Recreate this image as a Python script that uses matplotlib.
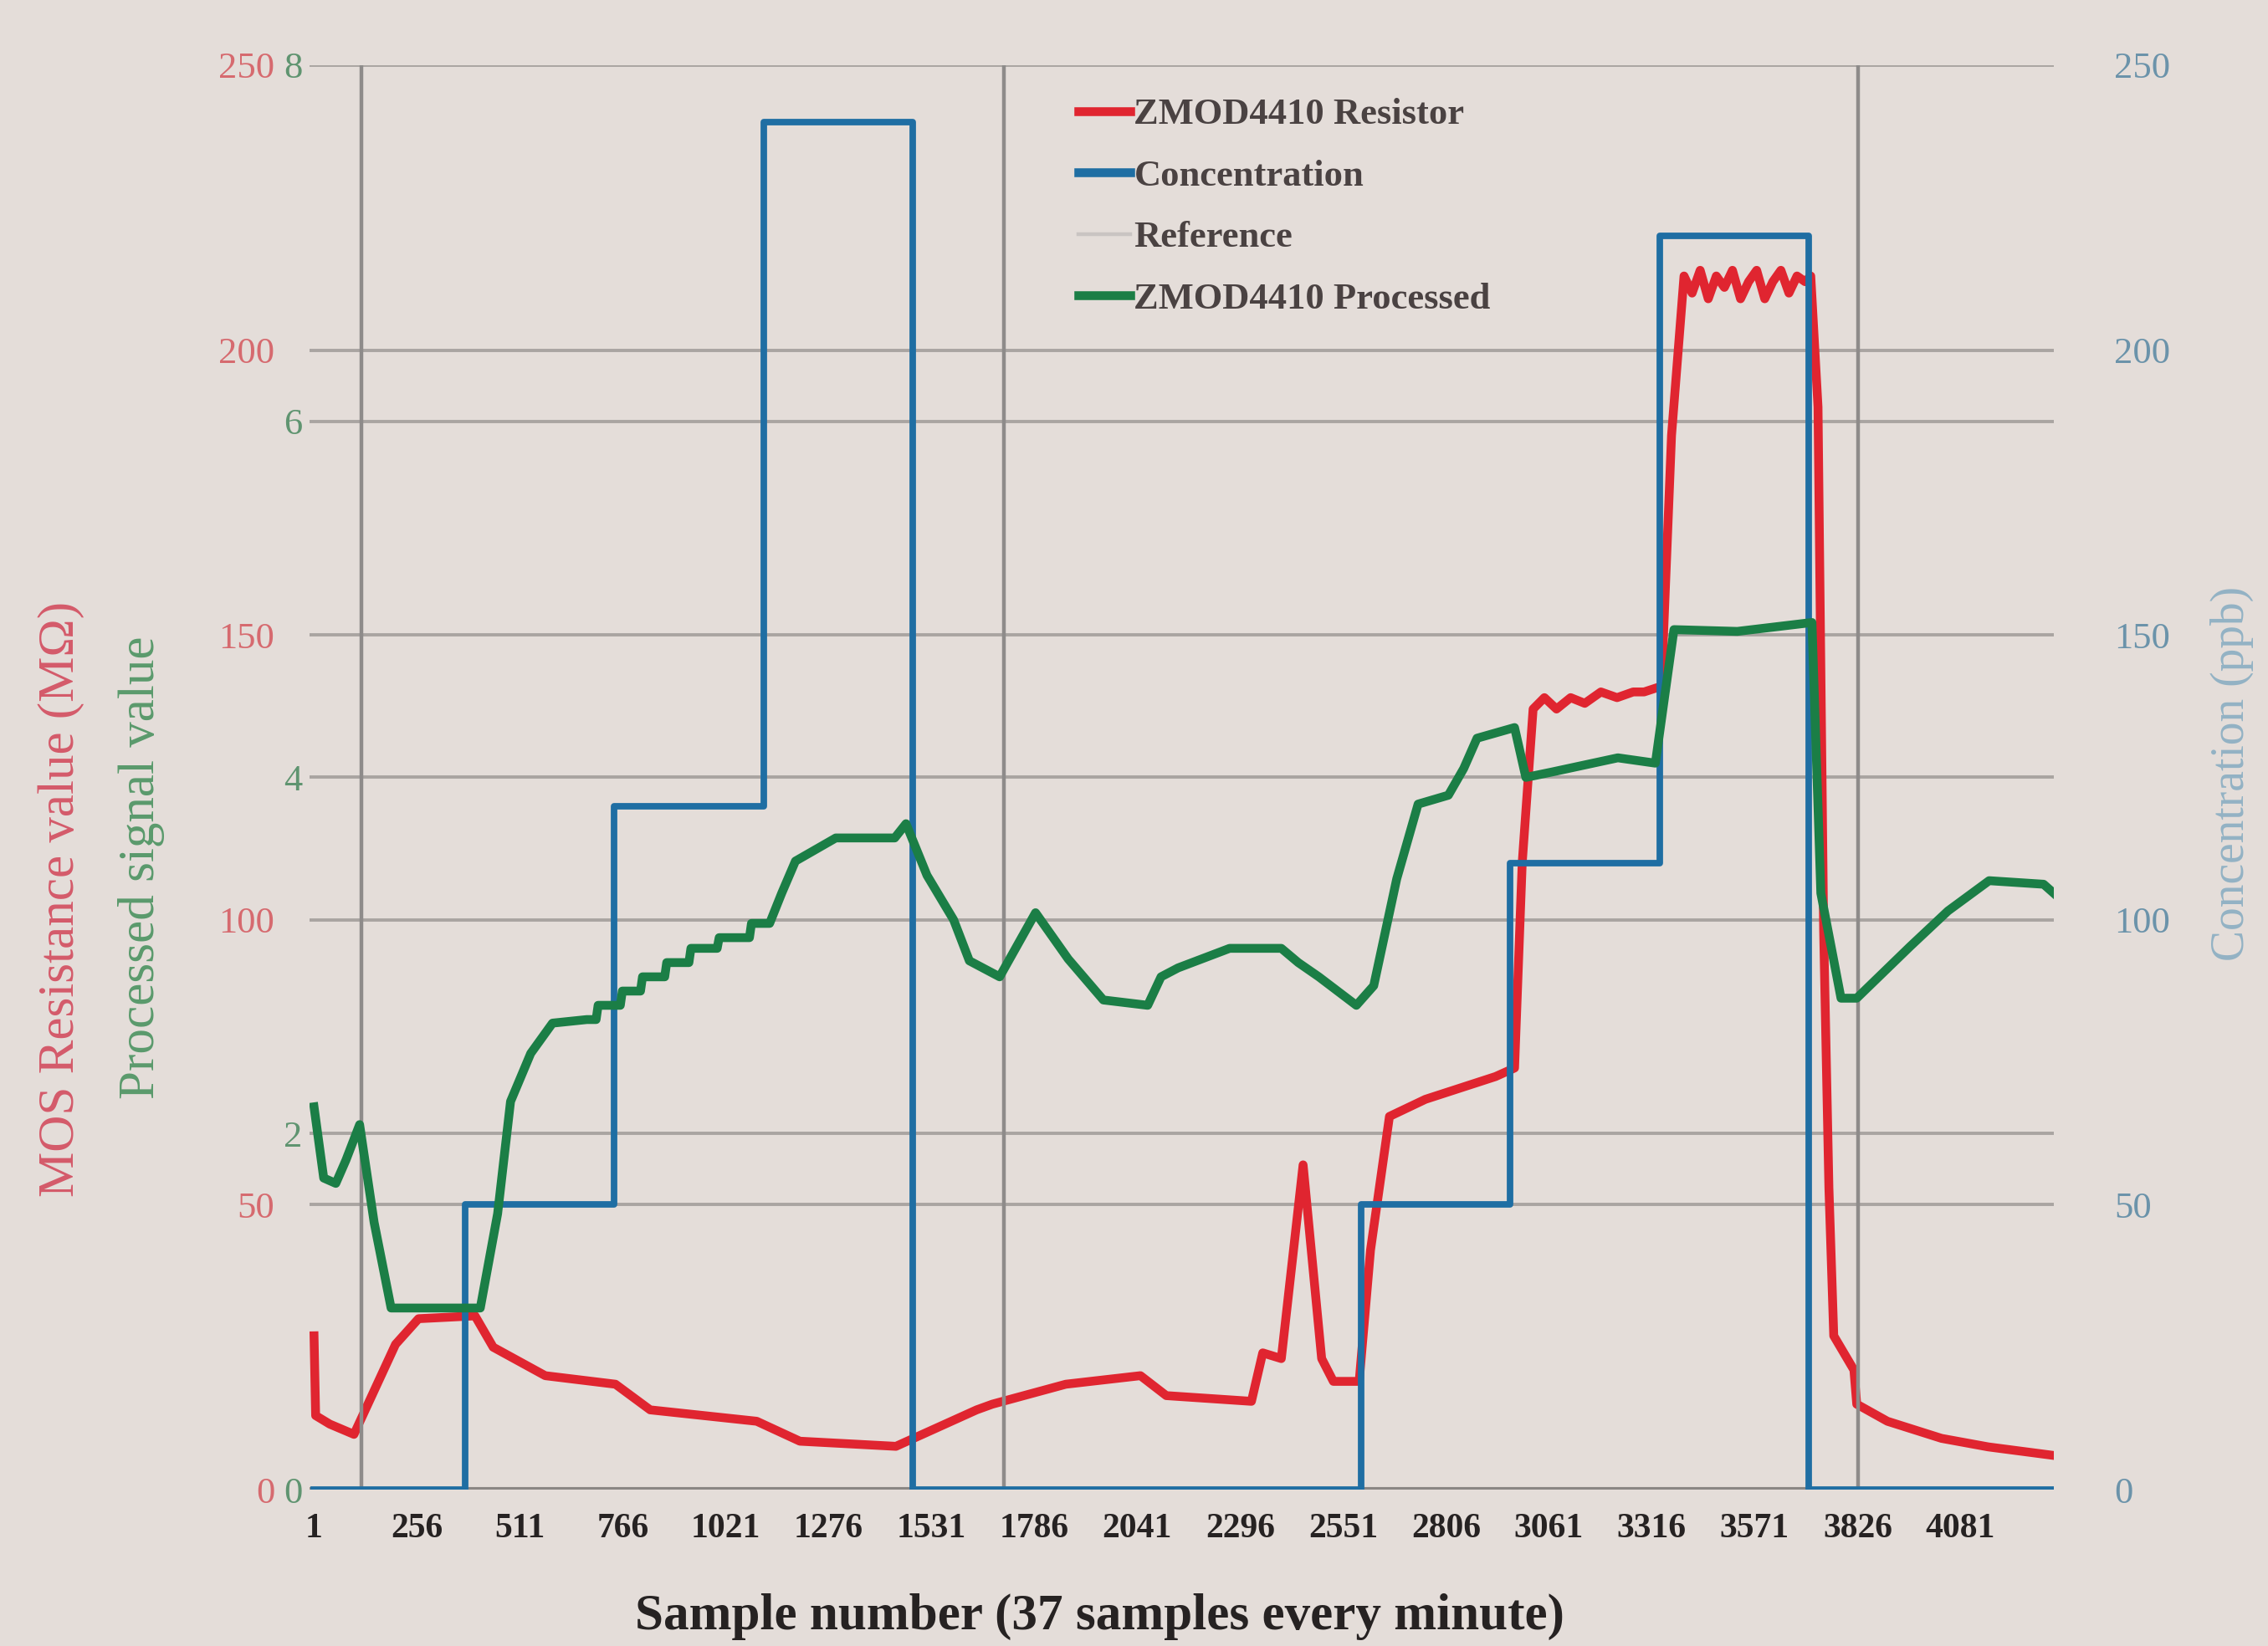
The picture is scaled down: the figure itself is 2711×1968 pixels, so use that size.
import matplotlib
matplotlib.use("Agg")
import matplotlib.pyplot as plt
from matplotlib import transforms
from matplotlib.lines import Line2D

plt.rcParams['font.family'] = ['Liberation Serif', 'DejaVu Serif']

# ZMOD4410 raw resistance (MOhm)
res_x = [1, 5, 40, 100, 203, 260, 400, 445, 574, 748, 834, 1098, 1205, 1443, 1518,
         1643, 1682, 1864, 2049, 2113, 2324, 2352, 2398, 2425, 2452, 2475, 2498, 2527,
         2591, 2619, 2666, 2755, 2929, 2976, 2995, 3022, 3050, 3080, 3115, 3150, 3190,
         3230, 3270, 3297, 3340, 3365, 3396, 3416, 3436, 3456, 3476, 3496, 3516, 3536,
         3556, 3576, 3596, 3616, 3636, 3656, 3676, 3696, 3710, 3728, 3742, 3755, 3767,
         3817, 3824, 3900, 4034, 4150, 4312]
res_y = [27, 13, 11.5, 9.7, 25.5, 30, 30.5, 25, 20, 18.5, 14, 12, 8.5, 7.6, 10,
         14, 15, 18.5, 20, 16.5, 15.5, 24, 23, 40, 57, 40, 23, 19,
         19, 42, 65.5, 68.5, 72.5, 74, 110, 137, 139, 137, 139, 138, 140,
         139, 140, 140, 141, 185, 213, 210, 214, 209, 213, 211, 214, 209,
         212, 214, 209, 212, 214, 210, 213, 212, 213, 190, 98, 53, 27,
         21, 15, 12, 9, 7.5, 6]

# gas concentration steps (ppb)
conc_x = [1, 375, 745, 1115, 1485, 2595, 2965, 3335, 3705, 4312]
conc_y = [0, 50, 120, 240, 0, 50, 110, 220, 0, 0]

# reference markers (sample number)
ref_x = [118, 1711, 3828]

# ZMOD4410 processed signal
proc_x = [1, 25, 55, 80, 114, 150, 192, 413, 456, 488, 538, 592, 677, 700, 705, 760,
          765, 810, 815, 870, 875, 930, 935, 1000, 1005, 1080, 1085, 1130, 1160, 1194,
          1294, 1440, 1468, 1520, 1586, 1625, 1700, 1789, 1870, 1957, 2067, 2100, 2142,
          2270, 2398, 2440, 2491, 2584, 2627, 2684, 2737, 2812, 2850, 2883, 2976, 3004,
          3068, 3232, 3325, 3371, 3528, 3713, 3735, 3785, 3824, 3956, 4050, 4152, 4287,
          4312]
proc_y = [2.15, 1.75, 1.72, 1.85, 2.05, 1.5, 1.02, 1.02, 1.55, 2.18, 2.45, 2.62, 2.64, 2.64, 2.72, 2.72,
          2.8, 2.8, 2.88, 2.88, 2.96, 2.96, 3.04, 3.04, 3.1, 3.1, 3.18, 3.18, 3.35, 3.53,
          3.66, 3.66, 3.74, 3.45, 3.2, 2.97, 2.88, 3.24, 2.98, 2.75, 2.72, 2.88, 2.93,
          3.04, 3.04, 2.96, 2.88, 2.72, 2.83, 3.43, 3.85, 3.9, 4.05, 4.22, 4.28, 4.0,
          4.03, 4.11, 4.08, 4.83, 4.82, 4.87, 3.35, 2.76, 2.76, 3.05, 3.25, 3.42, 3.4,
          3.35]

res_ticks = [0, 50, 100, 150, 200, 250]
proc_ticks = [0, 2, 4, 6, 8]
conc_ticks = [0, 50, 100, 150, 200, 250]
x_ticks = [1, 256, 511, 766, 1021, 1276, 1531, 1786, 2041, 2296, 2551, 2806, 3061,
           3316, 3571, 3826, 4081]

bg = '#e4ddd9'
grid_c = '#a9a4a1'
red = '#e02530'
blue = '#1f6ea3'
green = '#1b7e46'
ref_c = '#8e8b8a'

fig = plt.figure(figsize=(13.555, 9.84), dpi=200, facecolor=bg)
ax = fig.add_axes([0.1365, 0.095, 0.769, 0.8654])
ax_c = ax.twinx()
ax_p = ax.twinx()
for a in (ax, ax_c, ax_p):
    a.set_facecolor('none')
    a.set_xlim(-10, 4312)
    for s in ('top', 'left', 'right', 'bottom'):
        a.spines[s].set_visible(False)
    a.tick_params(axis='both', length=0)

ax.set_ylim(0, 250)
ax_c.set_ylim(0, 250)
ax_p.set_ylim(0, 8)

# horizontal grid for both left scales, kept under all curves
for v in res_ticks:
    ax.axhline(v, color=grid_c, lw=1.4, zorder=0)
trans = transforms.blended_transform_factory(ax.transAxes, ax_p.transData)
for v in proc_ticks[1:-1]:
    ax.plot([0, 1], [v, v], transform=trans, color=grid_c, lw=1.4, zorder=0)
ax.axhline(0, color='#8a8684', lw=2.2, zorder=0.5)

ax.plot(res_x, res_y, color=red, lw=3.8, solid_joinstyle='round', zorder=2)
ax_c.step(conc_x, conc_y, where='post', color=blue, lw=2.8, zorder=2)
ax_c.vlines(ref_x, 0, 250, color=ref_c, lw=1.6, zorder=1)
ax_p.plot(proc_x, proc_y, color=green, lw=3.8, solid_joinstyle='round', zorder=3)

# tick labels
ax.set_xticks(x_ticks)
ax.set_xticklabels([str(t) for t in x_ticks], fontsize=15, fontweight='bold', color='#262222')
ax.tick_params(axis='x', pad=10)

ax.set_yticks(res_ticks)
ax.set_yticklabels([str(t) for t in res_ticks], fontsize=16, color='#d66a6f')
ax.tick_params(axis='y', pad=15)

ax_p.yaxis.set_ticks_position('left')
ax_p.set_yticks(proc_ticks)
ax_p.set_yticklabels([str(t) for t in proc_ticks], fontsize=16, color='#5f9470')
ax_p.tick_params(axis='y', pad=3)
ax_p.tick_params(axis='x', labelbottom=False)

ax_c.set_yticks(conc_ticks)
ax_c.set_yticklabels([str(t) for t in conc_ticks], fontsize=16, color='#6b93aa')
ax_c.tick_params(axis='y', pad=26)
ax_c.tick_params(axis='x', labelbottom=False)

fig.text(0.027, 0.454, 'MOS Resistance value (MΩ)', rotation=90, fontsize=22,
         color='#d45a6a', ha='center', va='center')
fig.text(0.0625, 0.473, 'Processed signal value', rotation=90, fontsize=22,
         color='#5a9a6c', ha='center', va='center')
fig.text(0.984, 0.53, 'Concentration (ppb)', rotation=90, fontsize=20,
         color='#93b2c4', ha='center', va='center')
fig.text(0.485, 0.018, 'Sample number (37 samples every minute)', fontsize=22,
         fontweight='bold', color='#262222', ha='center', va='center')

handles = [Line2D([], [], color=red, lw=3.8),
           Line2D([], [], color=blue, lw=3.8),
           Line2D([], [], color='#c9c4c2', lw=1.6),
           Line2D([], [], color=green, lw=3.8)]
labels = ['ZMOD4410 Resistor', 'Concentration', 'Reference', 'ZMOD4410 Processed']
leg = ax_p.legend(handles, labels, loc='upper left', bbox_to_anchor=(0.43, 0.99),
                  frameon=False, handlelength=1.4, handletextpad=0.1, labelspacing=0.75,
                  borderpad=0, prop={'family': 'Liberation Serif', 'weight': 'bold', 'size': 16})
for t in leg.get_texts():
    t.set_color('#4a4242')

fig.savefig('out.png', dpi=200, facecolor=bg)
